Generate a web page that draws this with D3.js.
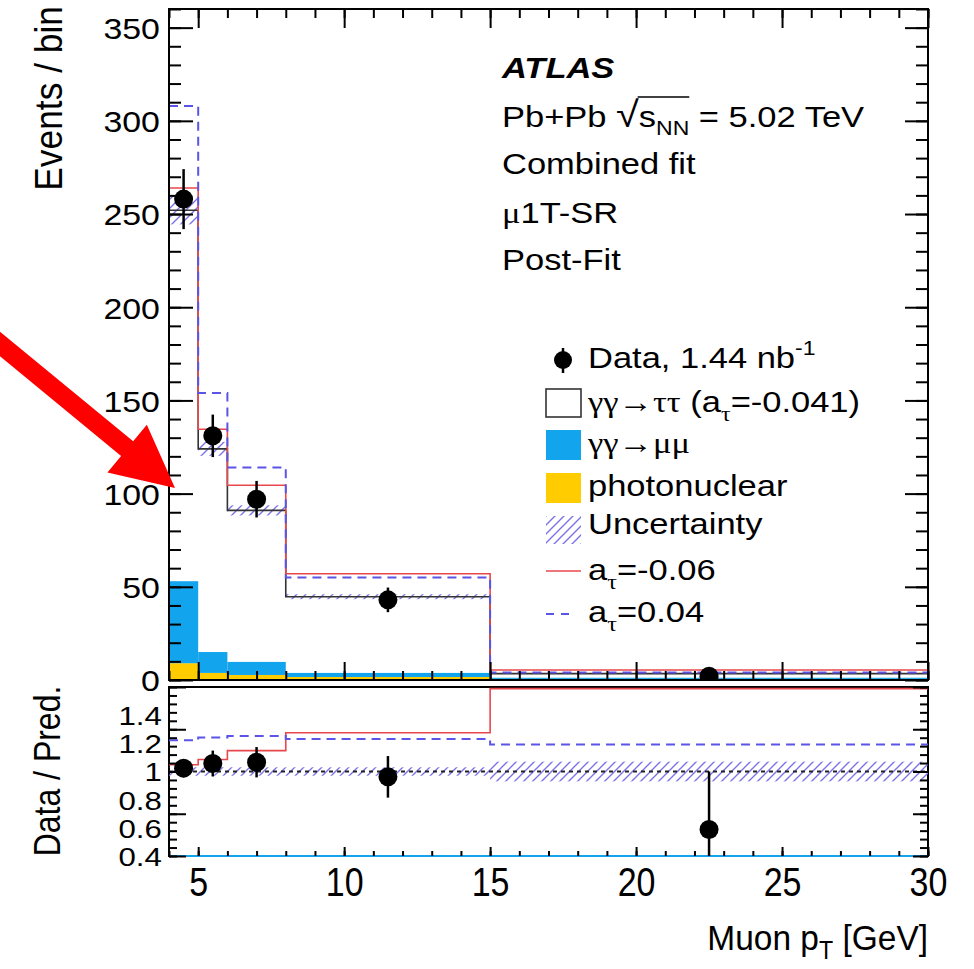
<!DOCTYPE html>
<html>
<head>
<meta charset="utf-8">
<script src="https://cdn.jsdelivr.net/npm/d3@7"></script>
<style>
body { margin: 0; background: #fff; }
text { font-family: "Liberation Sans", Arial, sans-serif; fill: #000; }
.greek { font-family: "Liberation Serif", "DejaVu Serif", serif; }
</style>
</head>
<body>
<svg id="chart" width="974" height="969"></svg>
<script>
// bins in muon pT [GeV]
var binEdges = [4, 5, 6, 8, 15, 30];
var dataCounts = [258, 131, 97, 43, 2];
var dataErrors = [16.1, 11.4, 9.8, 6.6, 1.4];
// post-fit stacked prediction
var tautauPred = [199, 109, 81.3, 40.9, 2.2];
var mumuPred = [44, 11.2, 7, 2.2, 0.6];
var photonuclearPred = [9, 3.8, 2.7, 1.6, 0.6];
var uncertaintyRel = [0.03, 0.03, 0.03, 0.03, 0.07];
// alternative a_tau hypotheses (total prediction)
var predAtauNeg006 = [264, 134.5, 104.5, 57, 5.4];
var predAtauPos004 = [308, 154, 114, 55, 4.05];

var yTickLabels = [0, 50, 100, 150, 200, 250, 300, 350];
var ratioTickLabels = [0.4, 0.6, 0.8, 1, 1.2, 1.4];
var ratioMajorTicks = [0.4, 0.7, 1.0, 1.3, 1.6];
var xTickLabels = [5, 10, 15, 20, 25, 30];

var svg = d3.select('#chart');

var x = d3.scaleLinear().domain([4, 30]).range([169, 928]);
var y = d3.scaleLinear().domain([0, 360]).range([680, 9]).clamp(true);
var yr = d3.scaleLinear().domain([0.4, 1.6]).range([856, 687]).clamp(true);

var blue = '#12a4ec', yellow = '#ffcc00', red = '#e8474c', dashBlue = '#5a55e6', hatch = '#7b72e6';

var nominal = tautauPred.map(function(v, i) { return v + mumuPred[i] + photonuclearPred[i]; });
var bins = d3.range(binEdges.length - 1).map(function(i) {
    return {i: i, x0: binEdges[i], x1: binEdges[i + 1], xc: (binEdges[i] + binEdges[i + 1]) / 2};
});

var defs = svg.append('defs');
var pat = defs.append('pattern').attr('id', 'hatch').attr('patternUnits', 'userSpaceOnUse')
    .attr('width', 9).attr('height', 9);
pat.append('path').attr('d', 'M0,9 L9,0 M-2.25,2.25 L2.25,-2.25 M6.75,11.25 L11.25,6.75')
    .attr('stroke', hatch).attr('stroke-width', 1.4);
defs.append('clipPath').attr('id', 'clipTop').append('rect')
    .attr('x', 169).attr('y', 9).attr('width', 759).attr('height', 671);
defs.append('clipPath').attr('id', 'clipRatio').append('rect')
    .attr('x', 169).attr('y', 686).attr('width', 759).attr('height', 171);

function stepPath(vals, sc) {
    var d = '';
    bins.forEach(function(b, i) {
        var yy = sc(vals[i]);
        d += (i ? 'L' : 'M') + x(b.x0) + ',' + yy + 'L' + x(b.x1) + ',' + yy;
    });
    return d;
}

// ---------- top panel ----------
var topG = svg.append('g').attr('clip-path', 'url(#clipTop)');

topG.selectAll('rect.pn').data(bins).enter().append('rect')
    .attr('x', function(b) { return x(b.x0); })
    .attr('width', function(b) { return x(b.x1) - x(b.x0); })
    .attr('y', function(b) { return y(photonuclearPred[b.i]); })
    .attr('height', function(b) { return y(0) - y(photonuclearPred[b.i]); })
    .attr('fill', yellow);

topG.selectAll('rect.mm').data(bins).enter().append('rect')
    .attr('x', function(b) { return x(b.x0); })
    .attr('width', function(b) { return x(b.x1) - x(b.x0); })
    .attr('y', function(b) { return y(photonuclearPred[b.i] + mumuPred[b.i]); })
    .attr('height', function(b) { return y(photonuclearPred[b.i]) - y(photonuclearPred[b.i] + mumuPred[b.i]); })
    .attr('fill', blue);

topG.selectAll('rect.unc').data(bins).enter().append('rect')
    .attr('x', function(b) { return x(b.x0); })
    .attr('width', function(b) { return x(b.x1) - x(b.x0); })
    .attr('y', function(b) { return y(nominal[b.i] * (1 + uncertaintyRel[b.i])); })
    .attr('height', function(b) {
        return y(nominal[b.i] * (1 - uncertaintyRel[b.i])) - y(nominal[b.i] * (1 + uncertaintyRel[b.i]));
    })
    .attr('fill', 'url(#hatch)');

topG.append('path').attr('d', stepPath(nominal, y)).attr('fill', 'none').attr('stroke', '#333').attr('stroke-width', 1.6);
topG.append('path').attr('d', stepPath(predAtauNeg006, y)).attr('fill', 'none').attr('stroke', red).attr('stroke-width', 1.6);
topG.append('path').attr('d', stepPath(predAtauPos004, y)).attr('fill', 'none').attr('stroke', dashBlue)
    .attr('stroke-width', 2).attr('stroke-dasharray', '9,6');

topG.selectAll('line.err').data(bins).enter().append('line')
    .attr('x1', function(b) { return x(b.xc); }).attr('x2', function(b) { return x(b.xc); })
    .attr('y1', function(b) { return y(dataCounts[b.i] - dataErrors[b.i]); })
    .attr('y2', function(b) { return y(dataCounts[b.i] + dataErrors[b.i]); })
    .attr('stroke', '#000').attr('stroke-width', 2.5);
topG.selectAll('circle').data(bins).enter().append('circle')
    .attr('cx', function(b) { return x(b.xc); })
    .attr('cy', function(b) { return y(dataCounts[b.i]); })
    .attr('r', 9.5).attr('fill', '#000');

svg.append('rect').attr('x', 169).attr('y', 9).attr('width', 759).attr('height', 671)
    .attr('fill', 'none').attr('stroke', '#000').attr('stroke-width', 2);

function tickAxis(axisFn, scale, values, size, tr) {
    svg.append('g').attr('transform', tr)
        .call(axisFn(scale).tickValues(values).tickSize(size).tickFormat(''))
        .call(function(s) { s.select('.domain').remove(); s.selectAll('line').attr('stroke', '#000').attr('stroke-width', 2); });
}

var xMinor = d3.range(4, 31, 1);
tickAxis(d3.axisTop, x, xMinor, 9, 'translate(0,680)');
tickAxis(d3.axisTop, x, xTickLabels, 18, 'translate(0,680)');
tickAxis(d3.axisBottom, x, xMinor, 9, 'translate(0,9)');
tickAxis(d3.axisBottom, x, xTickLabels, 19, 'translate(0,9)');
var yMinor = d3.range(0, 361, 10);
tickAxis(d3.axisRight, y, yMinor, 12, 'translate(169,0)');
tickAxis(d3.axisRight, y, yTickLabels, 24, 'translate(169,0)');
tickAxis(d3.axisLeft, y, yMinor, 12, 'translate(928,0)');
tickAxis(d3.axisLeft, y, yTickLabels, 23, 'translate(928,0)');

svg.append('g').attr('transform', 'translate(169,0)')
    .call(d3.axisLeft(y).tickValues(yTickLabels).tickSize(0).tickPadding(8))
    .call(function(s) {
        s.select('.domain').remove();
        s.selectAll('text').attr('font-size', 30).attr('dy', '0.36em')
            .attr('transform', 'scale(1.13,1)').style('font-family', '"Liberation Sans", Arial, sans-serif');
    });

// ---------- ratio panel ----------
svg.append('rect').attr('x', 169).attr('y', 687).attr('width', 759).attr('height', 169)
    .attr('fill', 'none').attr('stroke', '#000').attr('stroke-width', 2);
svg.append('line').attr('x1', 169).attr('x2', 928).attr('y1', 856).attr('y2', 856)
    .attr('stroke', blue).attr('stroke-width', 2);

var rat = svg.append('g').attr('clip-path', 'url(#clipRatio)');
rat.selectAll('rect.unc').data(bins).enter().append('rect')
    .attr('x', function(b) { return x(b.x0); })
    .attr('width', function(b) { return x(b.x1) - x(b.x0); })
    .attr('y', function(b) { return yr(1 + uncertaintyRel[b.i]); })
    .attr('height', function(b) { return yr(1 - uncertaintyRel[b.i]) - yr(1 + uncertaintyRel[b.i]); })
    .attr('fill', 'url(#hatch)');
rat.append('line').attr('x1', x(4)).attr('x2', x(30)).attr('y1', yr(1)).attr('y2', yr(1))
    .attr('stroke', '#222').attr('stroke-width', 2).attr('stroke-dasharray', '4,4');

var ratioNeg = predAtauNeg006.map(function(v, i) { return v / nominal[i]; });
var ratioPos = predAtauPos004.map(function(v, i) { return v / nominal[i]; });
rat.append('path').attr('d', stepPath(ratioNeg, yr)).attr('fill', 'none').attr('stroke', red).attr('stroke-width', 1.6);
rat.append('path').attr('d', stepPath(ratioPos, yr)).attr('fill', 'none').attr('stroke', dashBlue)
    .attr('stroke-width', 2).attr('stroke-dasharray', '9,6');

rat.selectAll('line.err').data(bins).enter().append('line')
    .attr('x1', function(b) { return x(b.xc); }).attr('x2', function(b) { return x(b.xc); })
    .attr('y1', function(b) { return yr((dataCounts[b.i] - dataErrors[b.i]) / nominal[b.i]); })
    .attr('y2', function(b) { return yr((dataCounts[b.i] + dataErrors[b.i]) / nominal[b.i]); })
    .attr('stroke', '#000').attr('stroke-width', 2.5);
rat.selectAll('circle').data(bins).enter().append('circle')
    .attr('cx', function(b) { return x(b.xc); })
    .attr('cy', function(b) { return yr(dataCounts[b.i] / nominal[b.i]); })
    .attr('r', 9.5).attr('fill', '#000');

tickAxis(d3.axisTop, x, xMinor, 5, 'translate(0,856)');
tickAxis(d3.axisTop, x, xTickLabels, 9, 'translate(0,856)');
var rMinor = d3.range(0.4, 1.601, 0.06);
tickAxis(d3.axisRight, yr, rMinor, 8, 'translate(169,0)');
tickAxis(d3.axisRight, yr, ratioMajorTicks, 17, 'translate(169,0)');
tickAxis(d3.axisLeft, yr, rMinor, 8, 'translate(928,0)');
tickAxis(d3.axisLeft, yr, ratioMajorTicks, 15, 'translate(928,0)');

svg.append('g').attr('transform', 'translate(169,0)')
    .call(d3.axisLeft(yr).tickValues(ratioTickLabels).tickSize(0).tickPadding(6)
        .tickFormat(function(d) { return String(+d.toFixed(1)); }))
    .call(function(s) {
        s.select('.domain').remove();
        s.selectAll('text').attr('font-size', 26).attr('dy', '0.36em')
            .attr('transform', 'scale(1.2,1)').style('font-family', '"Liberation Sans", Arial, sans-serif');
    });

svg.append('g').attr('transform', 'translate(0,856)')
    .call(d3.axisBottom(x).tickValues(xTickLabels).tickSize(0).tickPadding(12))
    .call(function(s) {
        s.select('.domain').remove();
        s.selectAll('text').attr('font-size', 40)
            .attr('transform', 'scale(0.85,1)').style('font-family', '"Liberation Sans", Arial, sans-serif');
    });

// ---------- titles ----------
function textAt(px, py, sx, size, anchor) {
    return svg.append('g').attr('transform', 'translate(' + px + ',' + py + ') scale(' + sx + ',1)')
        .append('text').attr('font-size', size).attr('text-anchor', anchor || 'start');
}

var xt = textAt(928, 950, 0.93, 36, 'end');
xt.append('tspan').text('Muon p');
xt.append('tspan').attr('font-size', 25).attr('dy', 9).text('T');
xt.append('tspan').attr('dy', -9).text(' [GeV]');

svg.append('g').attr('transform', 'translate(62,6) rotate(-90) scale(1.04,1.15)')
    .append('text').attr('font-size', 34).attr('text-anchor', 'end').text('Events / bin');
svg.append('g').attr('transform', 'translate(60,771) rotate(-90) scale(1,1.15)')
    .append('text').attr('font-size', 32).attr('text-anchor', 'middle').text('Data / Pred.');

var sx = 1.15;
textAt(502, 78, sx, 30).attr('font-weight', 'bold').attr('font-style', 'italic').text('ATLAS');
var g2 = svg.append('g').attr('transform', 'translate(502,127) scale(' + sx + ',1)');
var pb = g2.append('text').attr('font-size', 30);
pb.append('tspan').text('Pb+Pb ');
pb.append('tspan').attr('font-size', 36).text('\u221A');
pb.append('tspan').text('s');
pb.append('tspan').attr('font-size', 20).attr('dy', 8).text('NN');
pb.append('tspan').attr('dy', -8).text(' = 5.02 TeV');
var pn = pb.node();
var ox0 = pn.getEndPositionOfChar(6).x - 1, ox1 = pn.getEndPositionOfChar(9).x;
g2.append('line').attr('x1', ox0).attr('x2', ox1).attr('y1', -30).attr('y2', -30)
    .attr('stroke', '#000').attr('stroke-width', 1.5);
textAt(502, 174, sx, 30).text('Combined fit');
var mu = textAt(502, 223, sx, 30);
mu.append('tspan').attr('class', 'greek').text('\u03BC');
mu.append('tspan').text('1T-SR');
textAt(502, 270, sx, 30).text('Post-Fit');

// ---------- legend ----------
var lx = 546, tx = 588;
svg.append('line').attr('x1', 563).attr('x2', 563).attr('y1', 348).attr('y2', 373).attr('stroke', '#000').attr('stroke-width', 2.5);
svg.append('circle').attr('cx', 563).attr('cy', 360).attr('r', 9).attr('fill', '#000');
var t1 = textAt(tx, 368, sx, 30);
t1.append('tspan').text('Data, 1.44 nb');
t1.append('tspan').attr('font-size', 20).attr('dy', -13).text('-1');

svg.append('rect').attr('x', lx).attr('y', 389).attr('width', 35).attr('height', 28)
    .attr('fill', '#fff').attr('stroke', '#333').attr('stroke-width', 1.6);
var t2 = textAt(tx, 412, sx, 30);
t2.append('tspan').attr('class', 'greek').text('\u03B3\u03B3\u2192\u03C4\u03C4');
t2.append('tspan').text(' (a');
t2.append('tspan').attr('class', 'greek').attr('font-size', 21).attr('dy', 9).text('\u03C4');
t2.append('tspan').attr('dy', -9).text('=-0.041)');

svg.append('rect').attr('x', lx).attr('y', 430).attr('width', 35).attr('height', 30).attr('fill', blue);
textAt(tx, 453, sx, 30).append('tspan').attr('class', 'greek').text('\u03B3\u03B3\u2192\u03BC\u03BC');

svg.append('rect').attr('x', lx).attr('y', 473).attr('width', 35).attr('height', 30).attr('fill', yellow);
textAt(tx, 496, sx, 30).text('photonuclear');

svg.append('rect').attr('x', lx).attr('y', 516).attr('width', 35).attr('height', 28).attr('fill', 'url(#hatch)');
textAt(tx, 534, sx, 30).text('Uncertainty');

svg.append('line').attr('x1', lx).attr('x2', lx + 35).attr('y1', 571).attr('y2', 571).attr('stroke', red).attr('stroke-width', 1.6);
var t6 = textAt(tx, 580, sx, 30);
t6.append('tspan').text('a');
t6.append('tspan').attr('class', 'greek').attr('font-size', 21).attr('dy', 9).text('\u03C4');
t6.append('tspan').attr('dy', -9).text('=-0.06');

svg.append('line').attr('x1', lx).attr('x2', lx + 30).attr('y1', 614).attr('y2', 614).attr('stroke', dashBlue)
    .attr('stroke-width', 2).attr('stroke-dasharray', '8,7');
var t7 = textAt(tx, 622, sx, 30);
t7.append('tspan').text('a');
t7.append('tspan').attr('class', 'greek').attr('font-size', 21).attr('dy', 9).text('\u03C4');
t7.append('tspan').attr('dy', -9).text('=0.04');

// ---------- red annotation arrow ----------
var tip = [x(4) + 6, y(103)];
var ang = Math.atan2(144, 175), len = 270, headLen = 62, headHalf = 31, shaftHalf = 9.5;
var ux = Math.cos(ang), uy = Math.sin(ang), nx = -uy, ny = ux;
function pt(a, b) { return [tip[0] - ux * a + nx * b, tip[1] - uy * a + ny * b]; }
var arrowPts = [pt(0, 0), pt(headLen, headHalf), pt(headLen, shaftHalf), pt(len, shaftHalf),
    pt(len, -shaftHalf), pt(headLen, -shaftHalf), pt(headLen, -headHalf)];
svg.append('path').attr('d', d3.line()(arrowPts) + 'Z').attr('fill', '#ff0000');
</script>
</body>
</html>
